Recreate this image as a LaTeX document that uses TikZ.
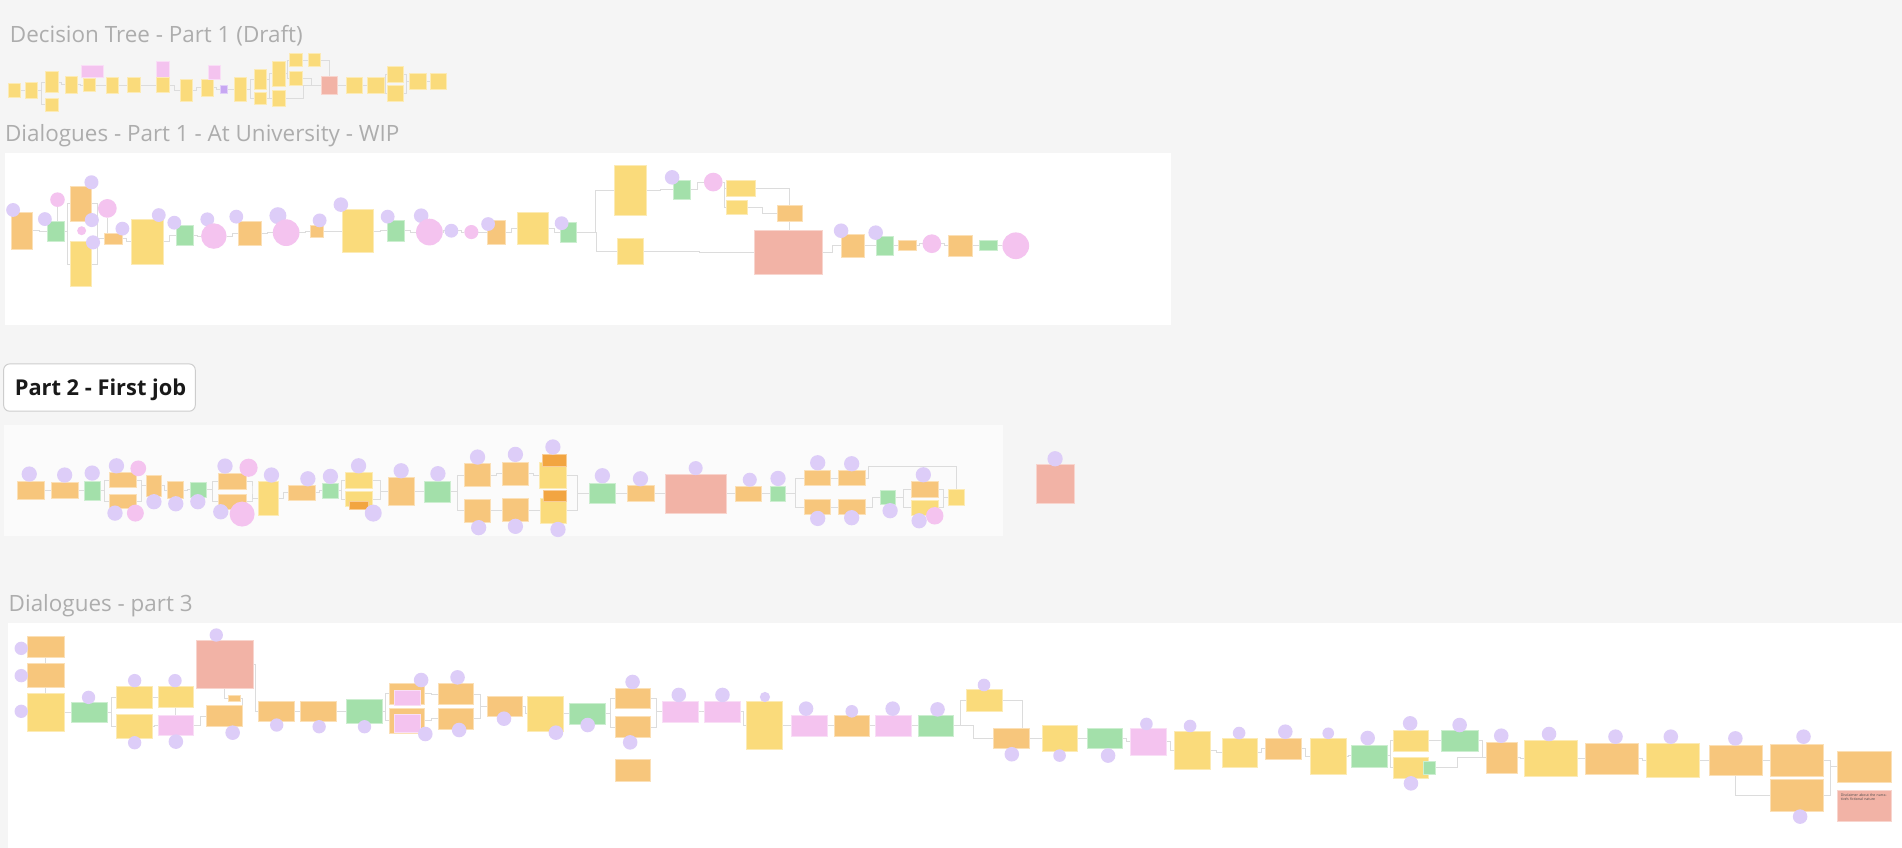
\documentclass[tikz,border=0pt]{standalone}
\usepackage{fontspec}
\setmainfont{Open Sans}
\usetikzlibrary{calc}
\definecolor{bgc}{HTML}{F5F5F5}
\definecolor{yel}{HTML}{FADB7B}
\definecolor{ora}{HTML}{F7C67C}
\definecolor{grn}{HTML}{A3E0AA}
\definecolor{pnk}{HTML}{F4C3EF}
\definecolor{pur}{HTML}{DDCDF8}
\definecolor{rdd}{HTML}{F2B3A6}
\definecolor{dor}{HTML}{F2A541}
\definecolor{vio}{HTML}{C7A7F2}
\definecolor{lnc}{HTML}{DCDCDC}
\definecolor{ttl}{HTML}{ADADAD}
\pgfdeclarelayer{panel}\pgfdeclarelayer{lines}\pgfdeclarelayer{top}
\pgfsetlayers{panel,lines,main,top}
\tikzset{
  stk/.style={rectangle,inner sep=0pt,outer sep=0pt,line width=0.6pt},
  cir/.style={circle,inner sep=0pt,outer sep=0pt,draw=none},
  cn/.style={draw=lnc,line width=0.8pt},
  ttlfont/.style={font=\fontsize{18.5}{22}\selectfont,text=ttl,inner sep=0pt,anchor=base west}
}
\newcommand\sk[6]{\node[stk,fill=#2,draw=#2!55!white,minimum width={(#5-#3)*1pt},minimum height={(#6-#4)*1pt}] (#1) at ({(#3+#5)/2},{(#4+#6)/2}) {};}
\newcommand\cc[5]{\begin{pgfonlayer}{top}\node[cir,fill=#2,minimum size={2*#5*1pt}] (#1) at (#3,#4) {};\end{pgfonlayer}}
\newcommand\lk[2]{\draw[cn] (#1.east) -| ($(#1.east)!.5!(#2.west)$) |- (#2.west);}
\begin{document}
\begin{tikzpicture}[x=1pt,y=-1pt]
\useasboundingbox (0,0) rectangle (1568,699);
\begin{pgfonlayer}{panel}
\fill[bgc] (0,0) rectangle (1568,699);
\fill[white] (4,126) rectangle (965,268);
\fill[white!98.5!black] (3,350) rectangle (827,442);
\fill[white] (7,514) rectangle (1568,699);
\end{pgfonlayer}
% titles
\node[ttlfont] (t1) at (8,35) {Decision Tree - Part 1 (Draft)};
\node[ttlfont] (t2) at (4,116.5) {Dialogues - Part 1 - At University - WIP};
\node[draw={rgb,255:red,205;green,205;blue,205},fill=white,rounded corners=5pt,line width=0.8pt,minimum width=158pt,minimum height=39pt,inner sep=0pt] (t3box) at (82,319.5) {};
\node[font=\fontsize{18}{22}\selectfont\bfseries,text={rgb,255:red,25;green,25;blue,25},inner sep=0pt,anchor=base west] (t3) at (12,326) {Part 2 - First job};
\node[ttlfont] (t4) at (7,504) {Dialogues - part 3};

% ===== Decision tree =====
\sk{d1}{yel}{6.9}{68.7}{17.0}{80.2}
\sk{d2}{yel}{20.9}{67.9}{31.1}{81.3}
\sk{d3}{yel}{37.6}{59.1}{48.1}{76.4}
\sk{d4}{yel}{37.6}{81.1}{48.1}{91.5}
\sk{d5}{yel}{53.6}{62.7}{63.8}{77.2}
\sk{d6}{yel}{68.4}{64.6}{78.6}{75.6}
\sk{d7}{pnk}{67.1}{53.6}{85.5}{64.0}
\sk{d8}{yel}{87.4}{63.5}{97.8}{76.9}
\sk{d9}{yel}{105.2}{64.0}{115.4}{76.4}
\sk{d10}{pnk}{128.9}{50.3}{139.3}{63.8}
\sk{d11}{yel}{128.9}{64.0}{139.3}{76.4}
\sk{d12}{yel}{148.4}{65.1}{158.8}{83.3}
\sk{d13}{yel}{165.7}{65.1}{175.9}{79.7}
\sk{d14}{pnk}{171.7}{53.9}{181.4}{65.1}
\sk{d15}{vio}{181.6}{70.1}{187.1}{76.9}
\sk{d16}{yel}{193.2}{63.5}{203.3}{83.5}
\sk{d17}{yel}{209.4}{57.2}{219.8}{73.9}
\sk{d18}{yel}{209.4}{76.1}{219.8}{86.3}
\sk{d19}{yel}{224.8}{50.3}{235.0}{70.9}
\sk{d20}{yel}{224.8}{74.5}{235.0}{87.9}
\sk{d21}{yel}{238.8}{44.0}{249.0}{55.0}
\sk{d22}{yel}{238.8}{59.1}{249.0}{70.1}
\sk{d23}{yel}{253.9}{44.0}{264.4}{55.0}
\sk{d24}{rdd}{264.6}{62.9}{278.1}{78.0}
\sk{d25}{yel}{285.2}{63.8}{299.0}{77.2}
\sk{d26}{yel}{302.8}{63.8}{316.6}{77.2}
\sk{d27}{yel}{319.0}{54.7}{332.8}{67.9}
\sk{d28}{yel}{319.0}{70.3}{332.8}{83.5}
\sk{d29}{yel}{337.7}{60.5}{351.2}{73.9}
\sk{d30}{yel}{354.5}{60.5}{368.2}{73.9}
\begin{pgfonlayer}{lines}
\lk{d1}{d2}\lk{d2}{d3}\lk{d2}{d4}\lk{d3}{d5}\lk{d5}{d6}\lk{d6}{d8}\lk{d8}{d9}\lk{d9}{d11}
\lk{d11}{d12}\lk{d12}{d13}\lk{d13}{d15}\lk{d15}{d16}\lk{d16}{d17}\lk{d16}{d18}
\lk{d17}{d19}\lk{d17}{d20}\lk{d18}{d20}\lk{d19}{d21}\lk{d19}{d22}\lk{d21}{d23}
\draw[cn] (d23.east) -| (d24.north);
\lk{d22}{d24}\lk{d20}{d24}\lk{d24}{d25}\lk{d25}{d26}\lk{d26}{d27}\lk{d26}{d28}
\lk{d27}{d29}\lk{d28}{d29}\lk{d29}{d30}
\end{pgfonlayer}

% ===== Dialogues part 1 =====
\cc{a1}{pur}{10.8}{173.1}{5.7}
\sk{b1}{ora}{9.4}{175.1}{26.9}{205.6}
\cc{c1}{pur}{37.0}{180.6}{5.7}
\sk{b2}{grn}{38.7}{182.2}{52.8}{198.7}
\cc{p1}{pnk}{47.4}{164.6}{6}
\sk{b3}{ora}{57.9}{153.3}{75.7}{182.2}
\cc{c2}{pur}{75.4}{150.3}{5.8}
\cc{p2}{pnk}{88.5}{171.8}{7.7}
\cc{c3}{pur}{75.7}{181.4}{5.8}
\cc{p3}{pnk}{67.3}{190.2}{3.7}
\cc{c4}{pur}{76.7}{199.8}{5.8}
\sk{b4}{yel}{57.9}{199.2}{75.7}{236.3}
\sk{b5}{ora}{85.8}{192.4}{100.9}{201.2}
\cc{c5}{pur}{100.9}{188.5}{5.7}
\sk{b6}{yel}{108.0}{180.8}{134.3}{217.9}
\cc{c6}{pur}{130.9}{177.3}{5.7}
\cc{c7}{pur}{143.7}{183.6}{5.7}
\sk{b7}{grn}{145.4}{185.5}{159.2}{202.0}
\cc{c8}{pur}{170.9}{180.8}{5.7}
\cc{p4}{pnk}{176.3}{194.6}{10.5}
\cc{c9}{pur}{194.8}{178.6}{5.7}
\sk{b8}{ora}{196.8}{182.2}{215.7}{202.5}
\cc{c10}{pur}{229.1}{177.8}{7}
\cc{p5}{pnk}{235.9}{191.8}{11}
\cc{c11}{pur}{263.5}{181.7}{5.7}
\sk{b9}{ora}{256.1}{185.5}{266.8}{196.0}
\cc{c12}{pur}{281.0}{168.7}{6}
\sk{b10}{yel}{282.0}{172.9}{307.5}{208.0}
\cc{c13}{pur}{319.6}{178.6}{5.7}
\sk{b11}{grn}{319.3}{181.4}{333.1}{198.7}
\cc{c14}{pur}{347.2}{177.8}{6}
\cc{p6}{pnk}{354.0}{191.3}{11}
\cc{c15}{pur}{372.1}{190.2}{5.7}
\cc{p7}{pnk}{388.6}{191.3}{5.8}
\cc{c16}{pur}{402.4}{184.7}{5.7}
\sk{b12}{ora}{401.8}{181.4}{416.9}{201.7}
\sk{b13}{yel}{426.6}{175.1}{452.2}{201.7}
\cc{c17}{pur}{463.0}{184.0}{5.7}
\sk{b14}{grn}{462.0}{183.3}{475.4}{200.1}
\sk{b15}{yel}{506.4}{136.0}{533.2}{177.8}
\sk{b16}{yel}{508.7}{196.5}{530.5}{218.0}
\cc{c18}{pur}{554.1}{146.2}{6}
\sk{b17}{grn}{555.3}{148.4}{569.1}{164.1}
\cc{p8}{pnk}{588.0}{150.1}{7.7}
\sk{b18}{yel}{598.9}{148.4}{622.4}{162.2}
\sk{b19}{yel}{598.9}{165.5}{616.5}{176.7}
\sk{b20}{ora}{640.7}{169.3}{661.6}{182.2}
\sk{b21}{rdd}{622.1}{189.9}{678.1}{225.9}
\cc{c19}{pur}{693.4}{190.2}{6}
\sk{b22}{ora}{694.0}{192.9}{712.8}{212.5}
\cc{c20}{pur}{721.9}{191.8}{6}
\sk{b23}{grn}{722.5}{194.9}{736.1}{210.3}
\sk{b24}{ora}{740.2}{197.9}{755.8}{206.7}
\cc{p9}{pnk}{768.2}{200.9}{7.7}
\sk{b25}{ora}{781.7}{193.8}{801.8}{211.6}
\sk{b26}{grn}{807.6}{198.2}{822.1}{206.7}
\cc{p10}{pnk}{837.4}{202.6}{11}
\begin{pgfonlayer}{lines}
\lk{b1}{b2}\lk{b2}{b3}\lk{b2}{b4}
\draw[cn] (p1.south) -- (p1.south |- b2.north);
\lk{b3}{b5}\lk{b4}{b5}
\draw[cn] (p2.south) -- (p2.south |- b5.north);
\lk{b5}{b6}\lk{b6}{b7}\lk{b7}{p4}\lk{p4}{b8}\lk{b8}{p5}\lk{p5}{b9}\lk{b9}{b10}\lk{b10}{b11}
\lk{b11}{p6}\lk{p6}{c15}\lk{c15}{p7}\lk{p7}{b12}\lk{b12}{b13}\lk{b13}{b14}\lk{b14}{b15}\lk{b14}{b16}
\lk{b15}{b17}\lk{b17}{p8}\lk{p8}{b18}\lk{p8}{b19}
\draw[cn] (b18.east) -| (b20.north);
\lk{b19}{b20}
\draw[cn] (b20.south) -- (b20.south |- b21.north);
\lk{b16}{b21}\lk{b21}{b22}\lk{b22}{b23}\lk{b23}{b24}\lk{b24}{p9}\lk{p9}{b25}\lk{b25}{b26}\lk{b26}{p10}
\end{pgfonlayer}

% ===== Part 2 =====
\cc{e1}{pur}{24.1}{390.8}{6.3}
\sk{f1}{ora}{14.7}{396.6}{36.8}{411.7}
\cc{e2}{pur}{53.3}{391.6}{6.3}
\sk{f2}{ora}{42.1}{398.0}{64.2}{410.9}
\cc{e3}{pur}{76.0}{390.0}{6.3}
\sk{f3}{grn}{69.5}{396.6}{82.5}{412.8}
\cc{e4}{pur}{96.0}{384.0}{6.3}
\cc{e5}{pnk}{114.0}{386.1}{6.5}
\sk{f4}{ora}{90.1}{389.7}{112.8}{402.1}
\sk{f5}{ora}{90.1}{407.3}{112.8}{419.1}
\cc{e6}{pur}{94.8}{423.0}{6.3}
\cc{e7}{pnk}{111.6}{423.0}{7}
\sk{f6}{ora}{120.4}{391.6}{133.4}{409.5}
\cc{e8}{pur}{126.9}{413.6}{6.3}
\sk{f7}{ora}{138.1}{397.1}{151.1}{410.9}
\cc{e9}{pur}{144.9}{415.3}{6.3}
\sk{f8}{grn}{157.2}{397.4}{169.9}{410.0}
\cc{e10}{pur}{163.1}{413.6}{6.3}
\cc{e11}{pur}{185.5}{384.2}{6.3}
\cc{e12}{pnk}{204.9}{385.6}{7.5}
\sk{f9}{ora}{180.2}{390.3}{202.9}{403.2}
\sk{f10}{ora}{180.2}{407.3}{202.9}{419.7}
\cc{e13}{pur}{182.0}{421.9}{6.3}
\cc{e14}{pnk}{199.6}{423.8}{10.3}
\cc{e15}{pur}{223.8}{391.6}{6.3}
\sk{f11}{yel}{212.6}{397.1}{229.7}{425.2}
\cc{e16}{pur}{253.8}{394.7}{6.3}
\sk{f12}{ora}{237.9}{399.9}{260.3}{412.5}
\cc{e17}{pur}{272.4}{392.7}{6.3}
\sk{f13}{grn}{265.9}{398.2}{278.6}{410.9}
\cc{e18}{pur}{295.6}{384.0}{6.3}
\sk{f14}{yel}{284.7}{389.2}{307.1}{402.3}
\sk{f15}{yel}{284.7}{405.4}{307.1}{417.7}
\sk{f16}{dor}{287.7}{413.6}{303.3}{419.7}
\cc{e19}{pur}{307.7}{423.0}{7}
\cc{e20}{pur}{330.7}{388.1}{6.3}
\sk{f17}{ora}{319.8}{393.8}{341.9}{416.9}
\cc{e21}{pur}{361.0}{390.5}{6.3}
\sk{f18}{grn}{349.8}{396.6}{371.6}{413.9}
\cc{e22}{pur}{393.7}{376.8}{6.3}
\sk{f19}{ora}{382.8}{382.3}{404.6}{401.2}
\sk{f20}{ora}{382.8}{411.7}{404.6}{430.4}
\cc{e23}{pur}{394.6}{435.0}{6.3}
\cc{e24}{pur}{424.9}{374.6}{6.3}
\sk{f21}{ora}{414.0}{380.9}{435.8}{399.9}
\sk{f22}{ora}{414.0}{410.9}{435.8}{430.1}
\cc{e25}{pur}{424.9}{433.9}{6.3}
\cc{e26}{pur}{455.8}{368.5}{6.3}
\sk{f23}{yel}{444.6}{381.2}{467.3}{402.6}
\sk{f24}{dor}{447.0}{374.9}{466.5}{384.2}
\sk{f25}{yel}{445.2}{410.9}{467.3}{431.5}
\sk{f26}{dor}{447.6}{404.3}{466.5}{413.6}
\cc{e27}{pur}{460.0}{436.5}{6.3}
\cc{e28}{pur}{496.6}{392.2}{6.3}
\sk{f27}{grn}{485.6}{398.2}{507.6}{415.3}
\cc{e29}{pur}{528.0}{394.7}{6.3}
\sk{f28}{ora}{516.9}{400.4}{539.2}{413.4}
\cc{e30}{pur}{573.5}{385.9}{5.8}
\sk{f29}{rdd}{548.5}{390.8}{598.5}{423.3}
\cc{e31}{pur}{618.1}{395.5}{5.8}
\sk{f30}{ora}{606.2}{400.7}{628.0}{413.4}
\cc{e32}{pur}{641.4}{394.4}{6.3}
\sk{f31}{grn}{635.4}{400.7}{647.7}{413.4}
\cc{e33}{pur}{674.1}{381.5}{6.3}
\sk{f32}{ora}{663.1}{388.1}{684.8}{400.4}
\sk{f33}{ora}{663.1}{411.7}{684.8}{424.3}
\cc{e34}{pur}{674.1}{427.4}{6.3}
\cc{e35}{pur}{702.1}{382.3}{6.3}
\sk{f34}{ora}{691.2}{388.1}{713.1}{400.4}
\sk{f35}{ora}{691.2}{411.7}{713.1}{424.3}
\cc{e36}{pur}{702.1}{426.8}{6.3}
\sk{f36}{grn}{726.1}{404.0}{738.4}{415.8}
\cc{e37}{pur}{733.8}{421.0}{6.3}
\cc{e38}{pur}{761.2}{391.4}{6.3}
\sk{f37}{ora}{751.6}{396.9}{773.9}{409.8}
\sk{f38}{yel}{751.6}{412.3}{773.9}{424.9}
\cc{e39}{pur}{757.7}{429.3}{6.3}
\cc{e40}{pnk}{770.6}{425.2}{7.2}
\sk{f39}{yel}{781.8}{403.5}{794.8}{416.6}
\cc{e41}{pur}{869.8}{378.2}{6.3}
\sk{f40}{rdd}{854.1}{383.1}{885.4}{415.0}
\coordinate (k1) at (716,384.5);
\begin{pgfonlayer}{lines}
\lk{f1}{f2}\lk{f2}{f3}\lk{f3}{f4}\lk{f3}{f5}\lk{f4}{f6}\lk{f5}{f6}\lk{f6}{f7}\lk{f7}{f8}
\lk{f8}{f9}\lk{f8}{f10}\lk{f9}{f11}\lk{f10}{f11}\lk{f11}{f12}\lk{f12}{f13}\lk{f13}{f14}\lk{f13}{f15}
\lk{f14}{f17}\lk{f15}{f17}\lk{f17}{f18}\lk{f18}{f19}\lk{f18}{f20}\lk{f19}{f21}\lk{f20}{f22}
\lk{f21}{f23}\lk{f22}{f25}\lk{f23}{f27}\lk{f25}{f27}\lk{f27}{f28}\lk{f28}{f29}\lk{f29}{f30}
\lk{f30}{f31}\lk{f31}{f32}\lk{f31}{f33}\lk{f32}{f34}\lk{f33}{f35}
\draw[cn] (f34.east) -| (k1) -| (f39.north);
\lk{f35}{f36}\lk{f36}{f37}\lk{f36}{f38}\lk{f37}{f39}\lk{f38}{f39}
\end{pgfonlayer}

% ===== Part 3 =====
\cc{g1}{pur}{17.5}{534.5}{5.5}
\sk{h1}{ora}{22.9}{524.6}{52.8}{541.6}
\cc{g2}{pur}{17.5}{557.0}{5.5}
\sk{h2}{ora}{22.9}{547.1}{52.8}{566.9}
\cc{g3}{pur}{17.5}{586.4}{5.5}
\sk{h3}{yel}{22.9}{571.6}{52.8}{603.2}
\cc{g4}{pur}{73.0}{574.9}{5.5}
\sk{h4}{grn}{58.9}{579.0}{88.2}{595.8}
\cc{g5}{pur}{111.0}{561.1}{5.5}
\sk{h5}{yel}{95.9}{565.5}{125.2}{583.7}
\sk{h6}{yel}{95.9}{588.6}{125.2}{608.7}
\cc{g6}{pur}{111.0}{612.3}{5.5}
\cc{g7}{pur}{144.3}{561.1}{5.5}
\sk{h7}{yel}{130.2}{566.1}{159.5}{583.1}
\sk{h8}{pnk}{130.2}{589.7}{159.5}{606.5}
\cc{g8}{pur}{145.0}{611.4}{6}
\cc{g9}{pur}{178.3}{523.5}{5.5}
\sk{h9}{rdd}{161.5}{527.9}{209.0}{567.7}
\sk{h10}{ora}{188.1}{573.5}{198.2}{578.5}
\sk{h11}{ora}{170.3}{581.5}{199.9}{599.1}
\cc{g10}{pur}{191.8}{604.0}{6}
\sk{h12}{ora}{213.0}{577.9}{242.6}{595.0}
\cc{g11}{pur}{228.1}{597.7}{5.5}
\sk{h13}{ora}{248.0}{577.9}{277.6}{595.0}
\cc{g12}{pur}{263.1}{599.1}{5.5}
\sk{h14}{grn}{285.3}{576.3}{314.9}{596.6}
\cc{g13}{pur}{300.5}{599.1}{5.5}
\sk{h15}{ora}{320.7}{563.3}{349.9}{580.7}
\sk{h16}{pnk}{325.0}{569.1}{346.9}{581.8}
\cc{g14}{pur}{347.2}{560.6}{6}
\sk{h17}{ora}{320.7}{584.0}{349.9}{604.6}
\sk{h18}{pnk}{325.0}{588.6}{346.9}{604.0}
\cc{g15}{pur}{350.6}{605.1}{6}
\cc{g16}{pur}{377.2}{558.4}{6}
\sk{h19}{ora}{361.0}{563.6}{390.6}{580.7}
\sk{h20}{ora}{361.0}{584.0}{390.6}{601.0}
\cc{g17}{pur}{378.5}{601.8}{6}
\sk{h21}{ora}{401.4}{573.8}{430.7}{590.8}
\cc{g18}{pur}{415.5}{592.5}{6}
\sk{h22}{yel}{435.1}{573.8}{464.3}{603.2}
\cc{g19}{pur}{458.3}{604.0}{6}
\sk{h23}{grn}{469.7}{580.1}{499.3}{596.9}
\cc{g20}{pur}{484.5}{597.7}{6}
\cc{g21}{pur}{521.5}{562.2}{6}
\sk{h24}{ora}{507.4}{567.5}{536.3}{584.3}
\sk{h25}{ora}{507.4}{590.8}{536.3}{608.0}
\cc{g22}{pur}{519.5}{612.0}{6}
\sk{h26}{ora}{507.4}{626.0}{536.3}{644.4}
\cc{g23}{pur}{559.6}{572.9}{6}
\sk{h27}{pnk}{546.1}{578.2}{575.7}{595.5}
\cc{g24}{pur}{595.6}{572.9}{6}
\sk{h28}{pnk}{580.8}{578.2}{610.7}{595.5}
\cc{g25}{pur}{630.6}{574.6}{4.2}
\sk{h29}{yel}{615.7}{578.2}{645.0}{617.7}
\cc{g26}{pur}{664.5}{584.2}{6}
\sk{h30}{pnk}{652.4}{589.4}{682.0}{606.7}
\cc{g27}{pur}{702.2}{586.4}{5.2}
\sk{h31}{ora}{687.8}{589.4}{717.0}{606.7}
\cc{g28}{pur}{735.9}{584.2}{6}
\sk{h32}{pnk}{721.4}{589.4}{751.0}{606.7}
\cc{g29}{pur}{772.9}{584.8}{6}
\sk{h33}{grn}{756.7}{589.4}{786.3}{606.7}
\cc{g30}{pur}{811.2}{564.7}{5.2}
\sk{h34}{yel}{796.8}{568.0}{826.4}{586.7}
\sk{h35}{ora}{818.6}{600.1}{848.2}{617.2}
\cc{g31}{pur}{834.1}{621.8}{6}
\sk{h36}{yel}{859.0}{597.7}{888.3}{619.6}
\cc{g32}{pur}{873.5}{622.9}{5.2}
\sk{h37}{grn}{896.0}{600.1}{925.3}{617.2}
\cc{g33}{pur}{913.5}{622.9}{6}
\cc{g34}{pur}{945.1}{596.8}{5.2}
\sk{h38}{pnk}{932.0}{600.1}{961.6}{622.4}
\cc{g35}{pur}{981.1}{598.5}{5.2}
\sk{h39}{yel}{968.0}{602.6}{997.6}{634.2}
\cc{g36}{pur}{1021.5}{604.3}{5.2}
\sk{h40}{yel}{1007.4}{608.7}{1036.7}{632.3}
\cc{g37}{pur}{1059.6}{603.2}{6}
\sk{h41}{ora}{1043.2}{608.4}{1073.0}{625.7}
\cc{g38}{pur}{1095.0}{604.5}{4.8}
\sk{h42}{yel}{1080.2}{608.4}{1109.7}{638.3}
\cc{g39}{pur}{1127.5}{608.4}{6}
\sk{h43}{grn}{1114.1}{614.1}{1144.0}{632.3}
\cc{g40}{pur}{1162.5}{596.3}{6}
\sk{h44}{yel}{1148.4}{602.1}{1177.9}{619.6}
\sk{h45}{yel}{1148.4}{624.0}{1177.9}{641.4}
\sk{h46}{grn}{1173.5}{627.9}{1183.7}{638.1}
\cc{g41}{pur}{1163.2}{645.8}{6}
\cc{g42}{pur}{1203.3}{597.7}{6}
\sk{h47}{grn}{1188.5}{602.1}{1218.7}{619.6}
\cc{g43}{pur}{1237.6}{606.5}{6}
\sk{h48}{ora}{1225.6}{611.7}{1250.6}{637.5}
\cc{g44}{pur}{1277.0}{605.1}{6}
\sk{h49}{yel}{1256.8}{610.6}{1300.6}{640.3}
\cc{g45}{pur}{1331.8}{607.3}{6}
\sk{h50}{ora}{1306.8}{612.8}{1350.3}{638.3}
\cc{g46}{pur}{1377.4}{607.3}{6}
\sk{h51}{yel}{1357.2}{612.8}{1401.1}{640.5}
\cc{g47}{pur}{1430.6}{608.7}{6}
\sk{h52}{ora}{1409.0}{614.1}{1452.5}{639.4}
\cc{g48}{pur}{1486.8}{607.3}{6}
\sk{h53}{ora}{1459.4}{613.6}{1503.3}{639.7}
\sk{h54}{ora}{1459.4}{642.5}{1503.3}{668.6}
\cc{g49}{pur}{1484.0}{673.2}{6}
\sk{h55}{ora}{1514.9}{619.6}{1559.1}{644.9}
\sk{h56}{rdd}{1514.9}{651.2}{1559.1}{676.8}
\node[anchor=north west,font=\fontsize{2.9}{3.9}\selectfont,text width=40pt,align=left,text=black!70,inner sep=0pt] (disc) at ($(h56.north west)+(2.5,2.8)$) {Disclaimer about the narrative's fictional nature};
\begin{pgfonlayer}{lines}
\draw[cn] (h1.south) -- (h2.north);
\draw[cn] (h2.south) -- (h3.north);
\lk{h3}{h4}\lk{h4}{h5}\lk{h4}{h6}\lk{h5}{h7}\lk{h6}{h8}
\draw[cn] (h7.south) -- (h8.north);
\lk{h8}{h11}
\draw[cn] (h9.south) |- (h10.west);
\draw[cn] (h10.east) -| (h11.east);
\lk{h9}{h12}\lk{h12}{h13}\lk{h13}{h14}\lk{h14}{h15}\lk{h14}{h17}\lk{h15}{h19}\lk{h17}{h20}
\lk{h19}{h21}\lk{h20}{h21}\lk{h21}{h22}\lk{h22}{h23}\lk{h23}{h24}\lk{h23}{h25}\lk{h24}{h27}\lk{h25}{h27}
\lk{h27}{h28}\lk{h28}{h29}\lk{h29}{h30}\lk{h30}{h31}\lk{h31}{h32}\lk{h32}{h33}\lk{h33}{h34}\lk{h33}{h35}
\lk{h34}{h36}\lk{h35}{h36}\lk{h36}{h37}\lk{h37}{h38}\lk{h38}{h39}\lk{h39}{h40}\lk{h40}{h41}\lk{h41}{h42}
\lk{h42}{h43}\lk{h43}{h44}\lk{h43}{h45}\lk{h44}{h47}\lk{h47}{h48}\lk{h45}{h48}
\lk{h48}{h49}\lk{h49}{h50}\lk{h50}{h51}\lk{h51}{h52}\lk{h52}{h53}
\draw[cn] (h52.south) |- (h54.west);
\lk{h53}{h55}\lk{h54}{h55}
\end{pgfonlayer}
\end{tikzpicture}
\end{document}
